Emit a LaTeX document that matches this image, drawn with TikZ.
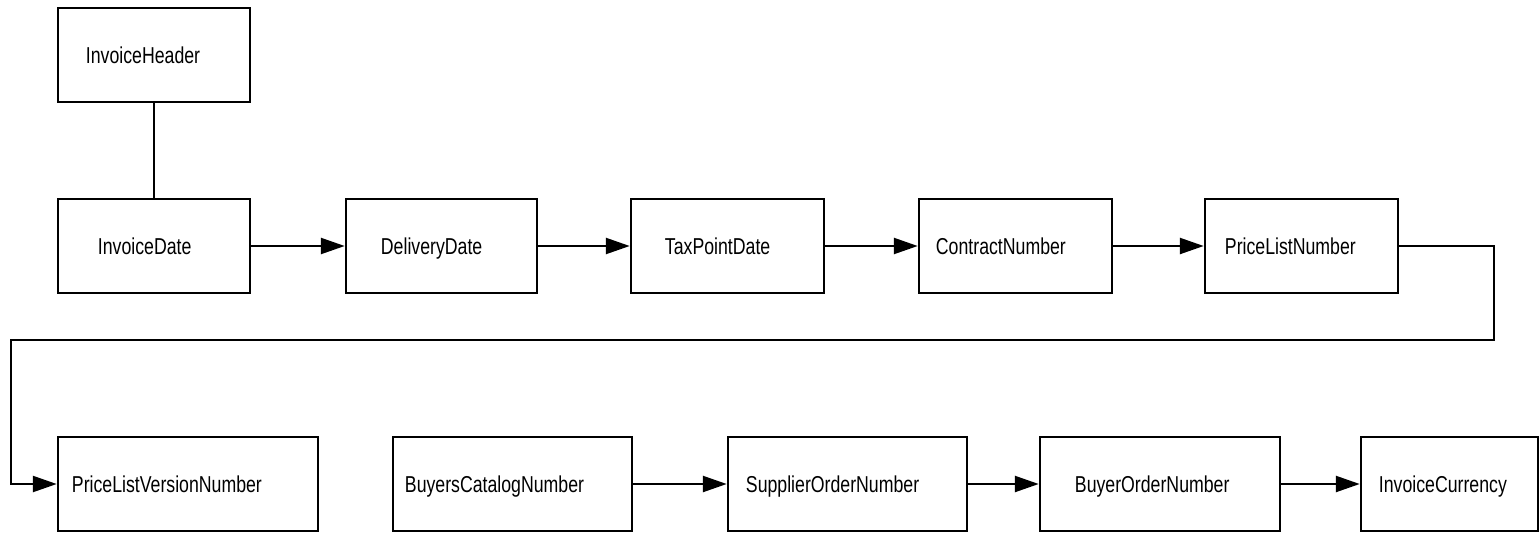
\documentclass[tikz,border=0pt]{standalone}
\usepackage{fontspec}
\newfontfamily\lab[FakeStretch=0.77]{Liberation Sans}
\usetikzlibrary{arrows.meta}
\begin{document}
\begin{tikzpicture}[x=1pt,y=-1pt,
  box/.style={draw=black, line width=2.5pt, minimum height=94pt, inner sep=0pt, fill=white},
  lbl/.style={font=\lab\fontsize{23}{26}\selectfont, inner sep=0pt, anchor=base west},
  conn/.style={draw=black, line width=2.5pt},
  arr/.style={conn, -{Triangle[length=24pt,width=16pt]}}]
\useasboundingbox[fill=white] (0,0) rectangle (1540,533);
% boxes
\node[box, minimum width=192pt] (hdr)   at (154,55) {};
\node[box, minimum width=192pt] (idate) at (154,246) {};
\node[box, minimum width=191pt] (ddate) at (441.5,246) {};
\node[box, minimum width=193pt] (tpd)   at (727.5,246) {};
\node[box, minimum width=193pt] (cn)    at (1015.5,246) {};
\node[box, minimum width=193pt] (pln)   at (1301.5,246) {};
\node[box, minimum width=260pt] (plvn)  at (188,484) {};
\node[box, minimum width=239pt] (bcn)   at (512.5,484) {};
\node[box, minimum width=239pt] (son)   at (847.5,484) {};
\node[box, minimum width=240pt] (bon)   at (1160,484) {};
\node[box, minimum width=177pt] (ic)    at (1449.5,484) {};
% labels
\node[lbl] (t-hdr)   at ([xshift=29pt,yshift=-8.2pt]hdr.west) {InvoiceHeader};
\node[lbl] (t-idate) at ([xshift=41pt,yshift=-8.2pt]idate.west) {InvoiceDate};
\node[lbl] (t-ddate) at ([xshift=36pt,yshift=-8.2pt]ddate.west) {DeliveryDate};
\node[lbl] (t-tpd)   at ([xshift=35pt,yshift=-8.2pt]tpd.west) {TaxPointDate};
\node[lbl] (t-cn)    at ([xshift=18pt,yshift=-8.2pt]cn.west) {ContractNumber};
\node[lbl] (t-pln)   at ([xshift=21pt,yshift=-8.2pt]pln.west) {PriceListNumber};
\node[lbl] (t-plvn)  at ([xshift=15pt,yshift=-8.2pt]plvn.west) {PriceListVersionNumber};
\node[lbl] (t-bcn)   at ([xshift=13pt,yshift=-8.2pt]bcn.west) {BuyersCatalogNumber};
\node[lbl] (t-son)   at ([xshift=19pt,yshift=-8.2pt]son.west) {SupplierOrderNumber};
\node[lbl] (t-bon)   at ([xshift=36pt,yshift=-8.2pt]bon.west) {BuyerOrderNumber};
\node[lbl] (t-ic)    at ([xshift=19pt,yshift=-8.2pt]ic.west) {InvoiceCurrency};
% connectors
\draw[conn] (hdr.south) -- (idate.north);
\draw[arr] (idate.east) -- (ddate.west);
\draw[arr] (ddate.east) -- (tpd.west);
\draw[arr] (tpd.east) -- (cn.west);
\draw[arr] (cn.east) -- (pln.west);
\coordinate (k1) at (1494,340);
\coordinate (k2) at (11,340);
\draw[arr] (pln.east) -- (pln.east -| k1) -- (k1) -- (k2) -- (k2 |- plvn.west) -- (plvn.west);
\draw[arr] (bcn.east) -- (son.west);
\draw[arr] (son.east) -- (bon.west);
\draw[arr] (bon.east) -- (ic.west);
\end{tikzpicture}
\end{document}
